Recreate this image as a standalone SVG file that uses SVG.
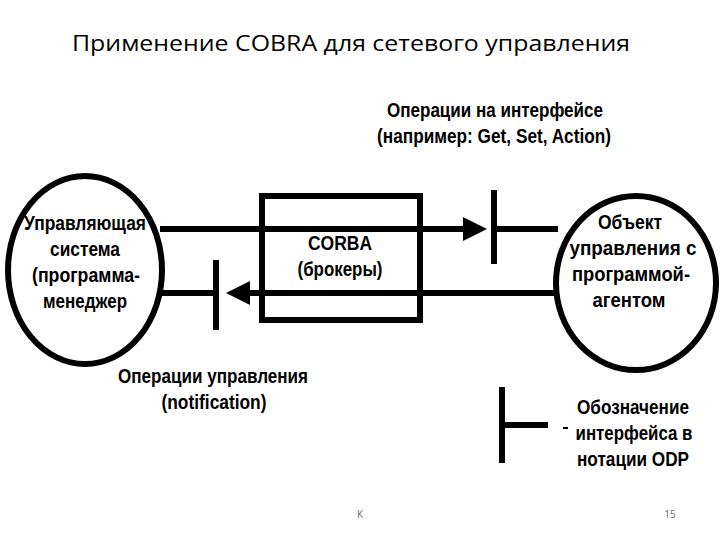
<svg xmlns="http://www.w3.org/2000/svg" width="720" height="540" viewBox="0 0 720 540">
<style>
.s{fill:none;stroke:#000;stroke-width:6}
.t{font-family:"Liberation Sans",Arial,sans-serif;font-weight:bold;font-size:20px;text-anchor:middle;fill:#000}
</style>
<defs><marker id="a" markerWidth="4" markerHeight="4" refX="2" refY="2" orient="auto"><path d="M0,0L4,2L0,4Z" fill="#000"/></marker></defs>
<rect width="720" height="540" fill="#fff"/>
<text x="351" y="51" font-family="'Open Sans',sans-serif" font-size="22" text-anchor="middle" textLength="558" lengthAdjust="spacingAndGlyphs">Применение COBRA для сетевого управления</text>
<g id="manager"><ellipse class="s" cx="85" cy="270" rx="77" ry="94"/>
<text class="t" x="85" y="230" textLength="122" lengthAdjust="spacingAndGlyphs">Управляющая</text><text class="t" x="85" y="256" textLength="70" lengthAdjust="spacingAndGlyphs">система</text><text class="t" x="86" y="282" textLength="108" lengthAdjust="spacingAndGlyphs">(программа-</text><text class="t" x="85" y="308" textLength="84" lengthAdjust="spacingAndGlyphs">менеджер</text></g>
<g id="agent"><ellipse class="s" cx="636" cy="283" rx="80" ry="87"/>
<text class="t" x="630" y="229" textLength="64" lengthAdjust="spacingAndGlyphs">Объект</text><text class="t" x="633" y="255" textLength="127" lengthAdjust="spacingAndGlyphs">управления с</text><text class="t" x="631" y="281" textLength="118" lengthAdjust="spacingAndGlyphs">программой-</text><text class="t" x="629" y="307" textLength="73" lengthAdjust="spacingAndGlyphs">агентом</text></g>
<g id="corba"><rect class="s" x="262" y="196" width="158" height="124"/>
<text class="t" x="340" y="250" textLength="64" lengthAdjust="spacingAndGlyphs">CORBA</text><text class="t" x="340" y="276" textLength="85" lengthAdjust="spacingAndGlyphs">(брокеры)</text></g>
<g id="connectors">
<line class="s" x1="160" y1="229" x2="475" y2="229" marker-end="url(#a)"/>
<line class="s" x1="494" y1="190" x2="494" y2="264"/>
<line class="s" x1="494" y1="229" x2="558" y2="229"/>
<line class="s" x1="556" y1="293" x2="238" y2="293" marker-end="url(#a)"/>
<line class="s" x1="216" y1="260" x2="216" y2="330"/>
<line class="s" x1="160" y1="293" x2="216" y2="293"/>
<line class="s" x1="502" y1="387" x2="502" y2="463"/>
<line class="s" x1="502" y1="425" x2="548" y2="425"/>
<line x1="563" y1="428" x2="568" y2="428" stroke="#000" stroke-width="2"/>
</g>
<g id="labels">
<text class="t" x="495" y="117" textLength="216" lengthAdjust="spacingAndGlyphs">Операции на интерфейсе</text><text class="t" x="494" y="143" textLength="234" lengthAdjust="spacingAndGlyphs">(например: Get, Set, Action)</text>
<text class="t" x="213" y="383" textLength="190" lengthAdjust="spacingAndGlyphs">Операции управления</text><text class="t" x="214" y="409" textLength="105" lengthAdjust="spacingAndGlyphs">(notification)</text>
<text class="t" x="633" y="414" textLength="112" lengthAdjust="spacingAndGlyphs">Обозначение</text><text class="t" x="634" y="440" textLength="117" lengthAdjust="spacingAndGlyphs">интерфейса в</text><text class="t" x="633" y="466" textLength="112" lengthAdjust="spacingAndGlyphs">нотации ODP</text>
</g>
<text x="360" y="518" font-family="'Open Sans',sans-serif" font-size="10" fill="#666" text-anchor="middle">К</text>
<text x="670" y="518" font-family="'Open Sans',sans-serif" font-size="10" fill="#666" text-anchor="middle">15</text>
</svg>
